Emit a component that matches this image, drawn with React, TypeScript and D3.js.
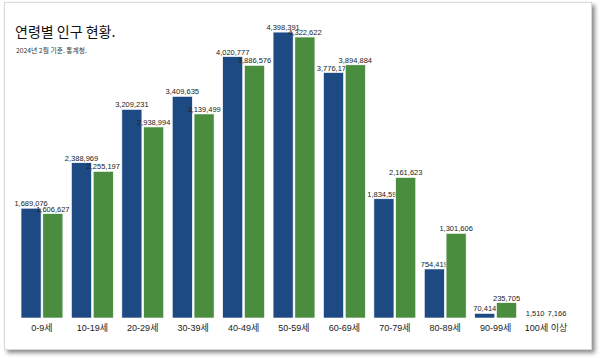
import React from "react";
import * as d3 from "d3";

const categories = ["0-9세", "10-19세", "20-29세", "30-39세", "40-49세", "50-59세", "60-69세", "70-79세", "80-89세", "90-99세", "100세 이상"];
const seriesA = [1689076, 2388969, 3209231, 3409635, 4020777, 4398391, 3776172, 1834596, 754419, 70414, 1510];
const seriesB = [1606627, 2255197, 2938994, 3139499, 3886576, 4322622, 3894884, 2161623, 1301606, 235705, 7166];
const seriesKeys = ["a", "b"];
const title = "연령별 인구 현황.";
const subtitle = "2024년 2월 기준. 통계청.";

const W = 600;
const H = 358;
const colors: Record<string, string> = { a: "#1e4a84", b: "#4a8d3f" };
const fontLatin = "'Liberation Sans', Arial, 'Noto Sans CJK KR', sans-serif";

export default function App() {
  const x0 = d3.scaleBand<string>().domain(categories).range([17, 571]).paddingInner(0.17).paddingOuter(0.08);
  const x1 = d3.scaleBand<string>().domain(seriesKeys).range([0, x0.bandwidth()]).paddingInner(0.08);
  const y = d3.scaleLinear().domain([0, 4400000]).range([318, 32]);
  const fmt = d3.format(",");
  const data = categories.map((c, i) => ({ c, a: seriesA[i], b: seriesB[i] }));

  return (
    <svg width={W} height={H} style={{ position: "absolute", left: 0, top: 0, background: "#fff" }}>
      <defs>
        <filter id="sh" x="-5%" y="-5%" width="112%" height="115%">
          <feDropShadow dx="3" dy="3" stdDeviation="2" floodColor="#000" floodOpacity="0.45" />
        </filter>
      </defs>
      <rect x={4.5} y={2.5} width={587} height={347} fill="#fff" stroke="#d8d8d8" filter="url(#sh)" />
      <text x={15} y={37} fontFamily="'Noto Sans CJK KR', sans-serif" fontSize={14} fontWeight={400} fill="#111">
        {title}
      </text>
      <text x={16} y={53} fontFamily="'Noto Sans CJK KR', sans-serif" fontSize={6.8} fill="#333">
        {subtitle}
      </text>
      {data.map((d) => (
        <g key={d.c} transform={`translate(${x0(d.c)},0)`}>
          {seriesKeys.map((k) => {
            const v = (d as any)[k] as number;
            const bx = x1(k)!;
            return (
              <g key={k}>
                <rect x={bx} y={y(v)} width={x1.bandwidth()} height={y(0) - y(v)} fill={colors[k]} stroke="#fff" strokeWidth={0.6} />
                <text
                  x={bx + x1.bandwidth() / 2}
                  y={y(v) - 2}
                  textAnchor="middle"
                  fontFamily={fontLatin}
                  fontSize={7.5}
                  fill="#222"
                >
                  {fmt(v)}
                </text>
              </g>
            );
          })}
        </g>
      ))}
      {categories.map((c) => (
        <text
          key={c}
          x={x0(c)! + x0.bandwidth() / 2}
          y={331}
          textAnchor="middle"
          fontFamily={fontLatin}
          fontSize={9}
          fill="#222"
        >
          {c}
        </text>
      ))}
    </svg>
  );
}
